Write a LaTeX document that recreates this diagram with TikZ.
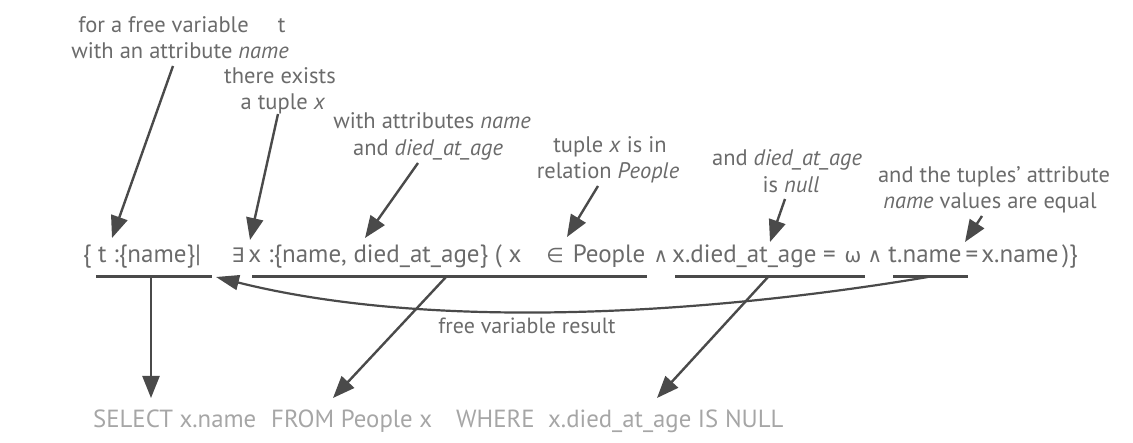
\documentclass[tikz,border=0pt]{standalone}
\usepackage{fontspec}
\setmainfont{PT Sans}
\newfontfamily\symf{DejaVu Sans}
\usetikzlibrary{arrows.meta}
\definecolor{txtc}{HTML}{6B6B6B}
\definecolor{sqlc}{HTML}{A6A6A6}
\definecolor{linec}{HTML}{4A4A4A}
\tikzset{
  ann/.style={anchor=base, text=txtc, inner sep=0pt, font=\fontsize{22.5}{26}\selectfont},
  frm/.style={anchor=base, text=txtc, inner sep=0pt, font=\fontsize{25}{28}\selectfont},
  sym/.style={anchor=base, text=txtc, inner sep=0pt, font=\symf\fontsize{20}{22}\selectfont},
  sql/.style={anchor=base west, text=sqlc, inner sep=0pt, font=\fontsize{24.8}{28}\selectfont},
  arr/.style={draw=linec, line width=2.4pt, -{Triangle[length=22pt,width=17pt]}},
  ul/.style={draw=linec, line width=3pt},
}
\begin{document}
\begin{tikzpicture}[x=1pt,y=-1pt]
\useasboundingbox (0,0) rectangle (1133,443);
% annotations
\node[ann] (n1a) at (182,33) {for a free variable\hspace{1.3em}t};
\node[ann] (n1b) at (180,59) {with an attribute \textit{name}};
\node[ann] (n2a) at (280,84) {there exists};
\node[ann] (n2b) at (283,110) {a tuple \textit{x}};
\node[ann] (n3a) at (432,129) {with attributes \textit{name}};
\node[ann] (n3b) at (428,156) {and \textit{died\_at\_age}};
\node[ann] (n4a) at (610,153) {tuple \textit{x} is in};
\node[ann] (n4b) at (608,179) {relation \textit{People}};
\node[ann] (n5a) at (787,166) {and \textit{died\_at\_age}};
\node[ann] (n5b) at (791,193) {is \textit{null}};
\node[ann] (n6a) at (994,183) {and the tuples' attribute};
\node[ann] (n6b) at (990,209) {\textit{name} values are equal};
% formula
\node[frm] (f1) at (142,263) {\{ t :\{name\}|};
\node[sym] (f2) at (238,263) {∃};
\node[frm] (f3) at (385,263) {x :\{name, died\_at\_age\} ( x};
\node[sym] (f4) at (555,263) {∈};
\node[frm] (f5) at (609,263) {People};
\node[sym] (f6) at (661,263) {∧};
\node[frm] (f7) at (754,263) {x.died\_at\_age =};
\node[sym] (f8) at (853,263) {ω};
\node[sym] (f9) at (875,263) {∧};
\node[frm] (f10) at (925,263) {t.name};
\node[frm] (f11) at (972,263) {=};
\node[frm] (f12) at (1020,263) {x.name};
\node[frm] (f13) at (1070,263) {)\}};
% SQL
\node[sql] (s1) at (93,428) {SELECT x.name};
\node[sql] (s2) at (271,428) {FROM People x};
\node[sql] (s3) at (456,428) {WHERE};
\node[sql] (s4) at (548,428) {x.died\_at\_age IS NULL};
\node[text=txtc, anchor=base, inner sep=0pt, font=\fontsize{22}{26}\selectfont] (fv) at (527,334) {free variable result};
% coordinates
\coordinate (a1s) at (173,66);  \coordinate (a1e) at (112,238);
\coordinate (a2s) at (278,114); \coordinate (a2e) at (250,240);
\coordinate (a3s) at (418,163); \coordinate (a3e) at (365,238);
\coordinate (a4s) at (598,186); \coordinate (a4e) at (567,237);
\coordinate (a5s) at (785,199); \coordinate (a5e) at (770,242);
\coordinate (a6s) at (982,216); \coordinate (a6e) at (965,242);
\coordinate (u1a) at (96,277);  \coordinate (u1b) at (212,277);
\coordinate (u2a) at (252,277); \coordinate (u2b) at (647,277);
\coordinate (u3a) at (675,277); \coordinate (u3b) at (865,277);
\coordinate (u4a) at (893,277); \coordinate (u4b) at (968,277);
\coordinate (d1s) at (151,277); \coordinate (d1e) at (151,398);
\coordinate (d2s) at (446,277); \coordinate (d2e) at (333,398);
\coordinate (d3s) at (768,277); \coordinate (d3e) at (657,398);
\coordinate (cs) at (928,277);  \coordinate (ce) at (216,277);
% arrows from annotations
\draw[arr] (a1s) -- (a1e);
\draw[arr] (a2s) -- (a2e);
\draw[arr] (a3s) -- (a3e);
\draw[arr] (a4s) -- (a4e);
\draw[arr] (a5s) -- (a5e);
\draw[arr] (a6s) -- (a6e);
% underlines
\draw[ul] (u1a) -- (u1b);
\draw[ul] (u2a) -- (u2b);
\draw[ul] (u3a) -- (u3b);
\draw[ul] (u4a) -- (u4b);
% down arrows
\draw[arr] (d1s) -- (d1e);
\draw[arr] (d2s) -- (d2e);
\draw[arr] (d3s) -- (d3e);
% free variable curve
\draw[draw=linec, line width=2.2pt, -{Triangle[length=23pt,width=15pt]}] (cs) .. controls (720,312) and (440,333) .. (ce);
\end{tikzpicture}
\end{document}
